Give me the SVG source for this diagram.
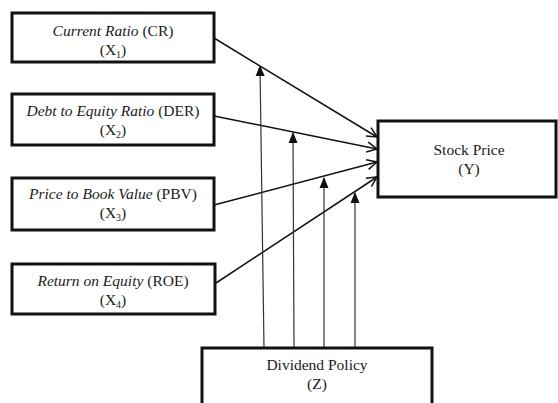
<svg xmlns="http://www.w3.org/2000/svg" width="558" height="403" viewBox="0 0 558 403">
<style>
.box{fill:#fff;stroke:#111;stroke-width:3}
.t{font-family:'Liberation Serif','Times New Roman','DejaVu Serif',serif;font-size:15.5px;fill:#1a1a1a;text-anchor:middle}
.i{font-style:italic}
.sub{font-size:10px}
.con{stroke:#111;stroke-width:1.5;fill:none}
.mod{stroke:#333;stroke-width:1.2;fill:none}
</style>
<defs>
<marker id="open" markerUnits="userSpaceOnUse" markerWidth="14" markerHeight="12" refX="11" refY="5" orient="auto" overflow="visible">
<path d="M1,0 L11,5 L1,10" fill="none" stroke="#111" stroke-width="1.5"/>
</marker>
<marker id="fill" markerUnits="userSpaceOnUse" markerWidth="12" markerHeight="10" refX="10" refY="4.5" orient="auto" overflow="visible">
<path d="M0,0 L11,4.5 L0,9 z" fill="#111"/>
</marker>
</defs>
<g id="connectors">
<line class="con" x1="214" y1="38" x2="377" y2="137" marker-end="url(#open)"/>
<line class="con" x1="214" y1="116" x2="377" y2="149" marker-end="url(#open)"/>
<line class="con" x1="214" y1="205" x2="377" y2="162" marker-end="url(#open)"/>
<line class="con" x1="216" y1="283" x2="377" y2="177" marker-end="url(#open)"/>
<line class="mod" x1="264" y1="348" x2="260" y2="66" marker-end="url(#fill)"/>
<line class="mod" x1="294" y1="348" x2="293" y2="133" marker-end="url(#fill)"/>
<line class="mod" x1="324" y1="348" x2="324" y2="178" marker-end="url(#fill)"/>
<line class="mod" x1="355" y1="348" x2="355" y2="193" marker-end="url(#fill)"/>
</g>
<g id="x1">
<rect class="box" x="12" y="13" width="202" height="49"/>
<text class="t" x="113" y="36"><tspan class="i">Current Ratio</tspan> (CR)</text>
<text class="t" x="113" y="55">(X<tspan class="sub" dy="3">1</tspan><tspan dy="-3">)</tspan></text>
</g>
<g id="x2">
<rect class="box" x="12" y="94" width="202" height="51"/>
<text class="t" x="113" y="116"><tspan class="i">Debt to Equity Ratio</tspan> (DER)</text>
<text class="t" x="113" y="135">(X<tspan class="sub" dy="3">2</tspan><tspan dy="-3">)</tspan></text>
</g>
<g id="x3">
<rect class="box" x="12" y="178" width="202" height="52"/>
<text class="t" x="113" y="199"><tspan class="i">Price to Book Value</tspan> (PBV)</text>
<text class="t" x="113" y="218">(X<tspan class="sub" dy="3">3</tspan><tspan dy="-3">)</tspan></text>
</g>
<g id="x4">
<rect class="box" x="12" y="264" width="203" height="50"/>
<text class="t" x="113" y="286"><tspan class="i">Return on Equity</tspan> (ROE)</text>
<text class="t" x="113" y="305">(X<tspan class="sub" dy="3">4</tspan><tspan dy="-3">)</tspan></text>
</g>
<g id="y">
<rect class="box" x="378" y="121" width="178" height="76"/>
<text class="t" x="469" y="155">Stock Price</text>
<text class="t" x="469" y="174">(Y)</text>
</g>
<g id="z">
<rect class="box" x="202" y="348" width="230" height="80"/>
<text class="t" x="317" y="370">Dividend Policy</text>
<text class="t" x="317" y="389">(Z)</text>
</g>
</svg>
